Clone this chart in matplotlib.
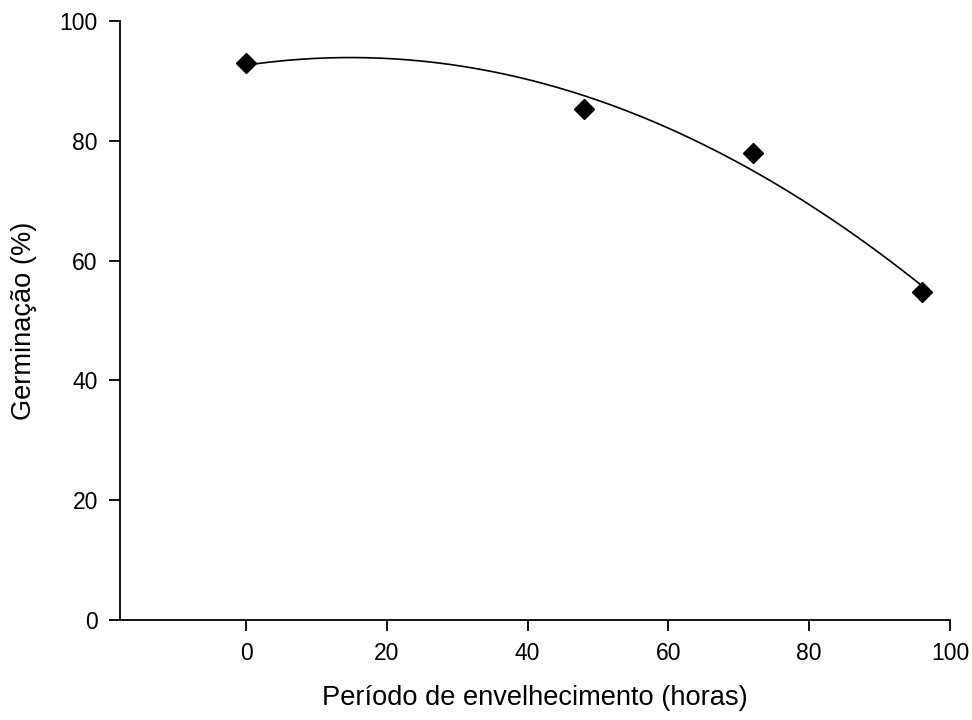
import matplotlib
matplotlib.use("Agg")
import matplotlib.pyplot as plt
import numpy as np

plt.rcParams['font.family'] = ['Liberation Sans', 'DejaVu Sans']

# aging period (hours) and germination (%)
horas = np.array([0, 48, 72, 96])
germinacao = np.array([93.0, 85.3, 78.0, 54.7])

xticks = [0, 20, 40, 60, 80, 100]
yticks = [0, 20, 40, 60, 80, 100]

# quadratic regression through the points
coef = np.polyfit(horas, germinacao, 2)
xfit = np.linspace(horas.min(), horas.max(), 200)
yfit = np.polyval(coef, xfit)

fig = plt.figure(figsize=(9.72, 7.2), dpi=100)
ax = fig.add_axes([120/972, 100/720, (950-120)/972, (620-21)/720])

ax.plot(xfit, yfit, color='black', linewidth=1.2)
ax.plot(horas, germinacao, linestyle='none', marker='D', markersize=10,
        color='black')

ax.set_xlim(-17.9, 100)
ax.set_ylim(0, 100)
ax.set_xticks(xticks)
ax.set_yticks(yticks)
ax.spines['top'].set_visible(False)
ax.spines['right'].set_visible(False)
ax.spines['left'].set_linewidth(1.3)
ax.spines['bottom'].set_linewidth(1.3)
ax.tick_params(direction='out', length=8, width=1.3, labelsize=16.5, pad=8)

ax.set_xlabel("Período de envelhecimento (horas)", fontsize=19.6, labelpad=14)
ax.set_ylabel("Germinação (%)", fontsize=19.6, labelpad=16)

fig.savefig("out.png", dpi=100)
